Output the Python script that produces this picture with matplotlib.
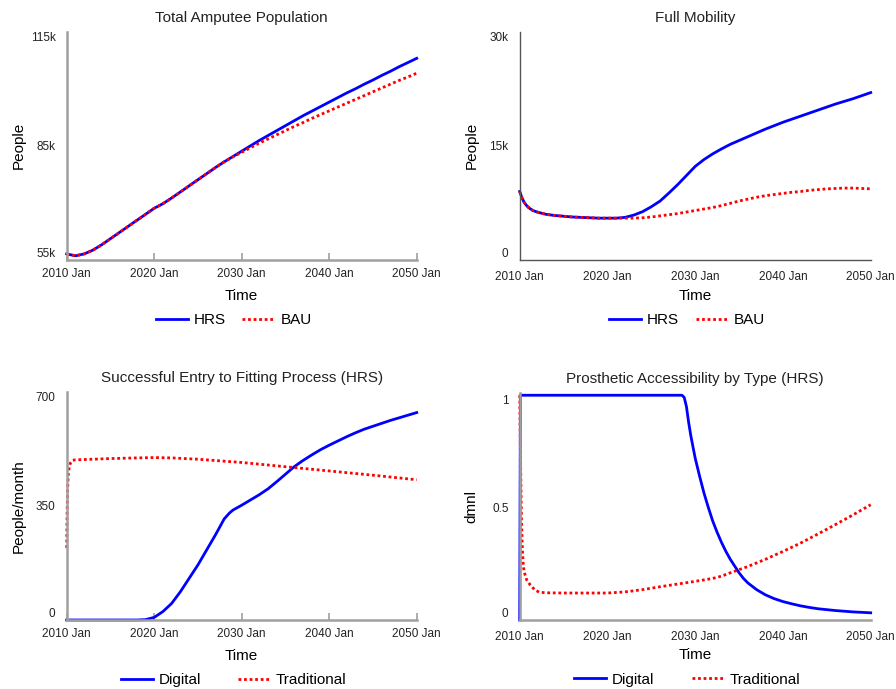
import matplotlib
matplotlib.use("Agg")
import matplotlib.pyplot as plt
from matplotlib.ticker import FixedLocator

plt.rcParams['font.family'] = ['Liberation Sans', 'DejaVu Sans']

# Total amputee population (people)
years = list(range(2010, 2051))
pop_hrs = [56600, 56100, 56600, 57600, 59000, 60600, 62200, 63800, 65400, 67000,
           68600, 69800, 71300, 72900, 74500, 76100, 77700, 79300, 80800, 82200,
           83600, 85000, 86400, 87700, 89000, 90300, 91600, 92900, 94100, 95300,
           96500, 97700, 98900, 100000, 101200, 102300, 103500, 104600, 105800, 106900,
           108000]
pop_bau = [56600, 56100, 56600, 57600, 59000, 60600, 62200, 63800, 65400, 67000,
           68600, 69800, 71300, 72900, 74500, 76100, 77700, 79300, 80800, 82100,
           83300, 84500, 85700, 86800, 87900, 89000, 90100, 91100, 92200, 93200,
           94200, 95200, 96200, 97200, 98200, 99200, 100200, 101200, 102200, 103100,
           104100]

# Full mobility (people)
mob_years = [2010, 2010.25, 2010.5, 2010.75, 2011, 2011.5, 2012] + list(range(2013, 2051))
mob_hrs = [9000, 8200, 7600, 7200, 6900, 6500, 6300,
           6000, 5850, 5750, 5650, 5600, 5550, 5500, 5500, 5500, 5600,
           5900, 6350, 7000, 7750, 8800, 9900, 11100, 12300, 13200, 13950,
           14600, 15200, 15700, 16200, 16700, 17200, 17650, 18100, 18500, 18900,
           19300, 19700, 20100, 20500, 20850, 21200, 21600, 22000]
mob_bau = [9000, 8200, 7600, 7200, 6900, 6500, 6300,
           6000, 5850, 5750, 5650, 5600, 5550, 5500, 5500, 5500, 5500,
           5500, 5550, 5650, 5800, 5950, 6100, 6300, 6500, 6700, 6900,
           7150, 7450, 7750, 8000, 8250, 8450, 8600, 8750, 8900, 9000,
           9150, 9250, 9350, 9400, 9450, 9450, 9400, 9350]

# Successful entry to fitting process, HRS (people/month)
entry_dig_years = [2010, 2018, 2019, 2020, 2021, 2022, 2023, 2024, 2025, 2026, 2027, 2028,
                   2028.6, 2029, 2030, 2031, 2032, 2033, 2034, 2035, 2036, 2037, 2038,
                   2039, 2040, 2041, 2042, 2043, 2044, 2045, 2046, 2047, 2048, 2049, 2050]
entry_digital = [0, 0, 1, 8, 26, 51, 87, 128, 169, 215, 261, 310,
                 328, 337, 352, 368, 384, 402, 424, 447, 470, 489, 506,
                 522, 536, 549, 562, 574, 585, 594, 603, 612, 620, 628, 636]
entry_trad_years = [2010, 2010.05, 2010.1, 2010.2, 2010.4, 2010.7, 2011, 2015, 2018,
                    2020, 2022, 2025, 2030, 2035, 2040, 2045, 2050]
entry_traditional = [221, 330, 400, 455, 480, 490, 491, 495, 497,
                     498, 497, 493, 483, 470, 457, 444, 430]

# Prosthetic accessibility by type, HRS (dmnl)
acc_dig_years = [2010, 2010.08, 2028.5, 2028.75, 2029, 2029.25, 2029.5, 2029.75, 2030,
                 2030.5, 2031, 2031.5, 2032, 2032.5, 2033, 2033.5, 2034, 2034.5, 2035,
                 2035.5, 2036, 2037, 2038, 2039, 2040, 2041, 2042, 2043, 2044, 2046,
                 2048, 2050]
acc_digital = [0, 1, 1, 0.99, 0.95, 0.88, 0.82, 0.77, 0.72,
               0.64, 0.565, 0.5, 0.44, 0.39, 0.345, 0.305, 0.27, 0.24, 0.21,
               0.185, 0.165, 0.135, 0.112, 0.095, 0.082, 0.072, 0.063, 0.056, 0.05, 0.042,
               0.036, 0.032]
acc_trad_years = [2010, 2010.1, 2010.2, 2010.3, 2010.4, 2010.5, 2010.8, 2011.2, 2011.7,
                  2012.2, 2013, 2015, 2018, 2020, 2022, 2024, 2026, 2028, 2030, 2032,
                  2033, 2034, 2036, 2038, 2040, 2042, 2044, 2046, 2048, 2050]
acc_traditional = [1.0, 0.7, 0.45, 0.32, 0.25, 0.215, 0.178, 0.156, 0.135,
                   0.124, 0.121, 0.12, 0.12, 0.12, 0.125, 0.135, 0.148, 0.16, 0.172, 0.185,
                   0.195, 0.21, 0.238, 0.27, 0.305, 0.342, 0.383, 0.425, 0.468, 0.513]

xticks = [2010, 2020, 2030, 2040, 2050]
xlabels = [f"{y} Jan" for y in xticks]

BLUE = "#0000ff"
RED = "#ff0000"
W, H = 896, 689


def make_axes(fig, x0, y0, x1, y1):
    return fig.add_axes([x0 / W, 1 - y1 / H, (x1 - x0) / W, (y1 - y0) / H])


def style(ax, title, ylabel, yticks, ylabels, ylim, spine_col, spine_lw, ticks_in,
          legend_names, colspace):
    ax.set_xlim(2010, 2050)
    ax.set_ylim(*ylim)
    for s in ("top", "right"):
        ax.spines[s].set_visible(False)
    for s in ("left", "bottom"):
        ax.spines[s].set_color(spine_col)
        ax.spines[s].set_linewidth(spine_lw)

    ax.set_xticks(xticks)
    ax.set_xticklabels(xlabels, fontsize=8.5, color="#222222")
    ax.set_yticks(yticks)
    ax.set_yticklabels(ylabels, fontsize=8.5, color="#222222")
    ax.tick_params(axis="y", length=0, pad=8)
    if ticks_in:
        ax.tick_params(axis="x", direction="in", length=5, width=1.2, color=spine_col, pad=6)
        # little cap at the top of the value axis
        ax.yaxis.set_minor_locator(FixedLocator([ylim[1]]))
        ax.tick_params(axis="y", which="minor", direction="in", length=5, width=1.5, color=spine_col)
    else:
        ax.tick_params(axis="x", length=0, pad=8)

    labs = ax.get_yticklabels()
    labs[0].set_verticalalignment("bottom")
    labs[-1].set_verticalalignment("top")

    ax.set_title(title, fontsize=11, color="#222222", pad=7)
    ax.set_xlabel("Time", fontsize=11)
    ax.xaxis.set_label_coords(0.5, -0.125)
    ax.set_ylabel(ylabel, fontsize=11)
    ax.yaxis.set_label_coords(-0.137, 0.5)
    ax.yaxis.label.set_verticalalignment("center")

    ax.legend(legend_names, loc="center", bbox_to_anchor=(0.477, -0.263), ncol=2,
              frameon=False, fontsize=11, handlelength=2.1, handletextpad=0.4,
              columnspacing=colspace)


fig = plt.figure(figsize=(W / 100, H / 100), dpi=100)

line_kw = dict(lw=2, clip_on=False)
dot_kw = dict(lw=2, linestyle=(0, (1, 1)), clip_on=False)

# top left
ax1 = make_axes(fig, 66.7, 31.7, 416.7, 260)
ax1.plot(years, pop_hrs, color=BLUE, **line_kw)
ax1.plot(years, pop_bau, color=RED, **dot_kw)
style(ax1, "Total Amputee Population", "People", [55000, 85000, 115000],
      ["55k", "85k", "115k"], (55000, 115000), "#a0a0a0", 1.8, True, ["HRS", "BAU"], 1.05)

# top right
ax2 = make_axes(fig, 519.7, 31.7, 870.7, 260)
ax2.plot(mob_years, mob_hrs, color=BLUE, **line_kw)
ax2.plot(mob_years, mob_bau, color=RED, **dot_kw)
style(ax2, "Full Mobility", "People", [0, 15000, 30000],
      ["0", "15k", "30k"], (0, 30000), "#555555", 1.0, False, ["HRS", "BAU"], 1.1)

# bottom left
ax3 = make_axes(fig, 66.7, 391.7, 416.7, 620)
ax3.plot(entry_dig_years, entry_digital, color=BLUE, **line_kw)
ax3.plot(entry_trad_years, entry_traditional, color=RED, **dot_kw)
style(ax3, "Successful Entry to Fitting Process (HRS)", "People/month", [0, 350, 700],
      ["0", "350", "700"], (0, 700), "#a0a0a0", 1.8, True, ["Digital", "Traditional"], 2.4)

# bottom right
ax4 = make_axes(fig, 519.7, 393, 870.7, 620)
ax4.plot(acc_dig_years, acc_digital, color=BLUE, **line_kw)
ax4.plot(acc_trad_years, acc_traditional, color=RED, **dot_kw)
style(ax4, "Prosthetic Accessibility by Type (HRS)", "dmnl", [0, 0.5, 1],
      ["0", "0.5", "1"], (0, 1.01), "#a0a0a0", 1.8, False, ["Digital", "Traditional"], 2.45)

fig.savefig("out.png", dpi=100)
